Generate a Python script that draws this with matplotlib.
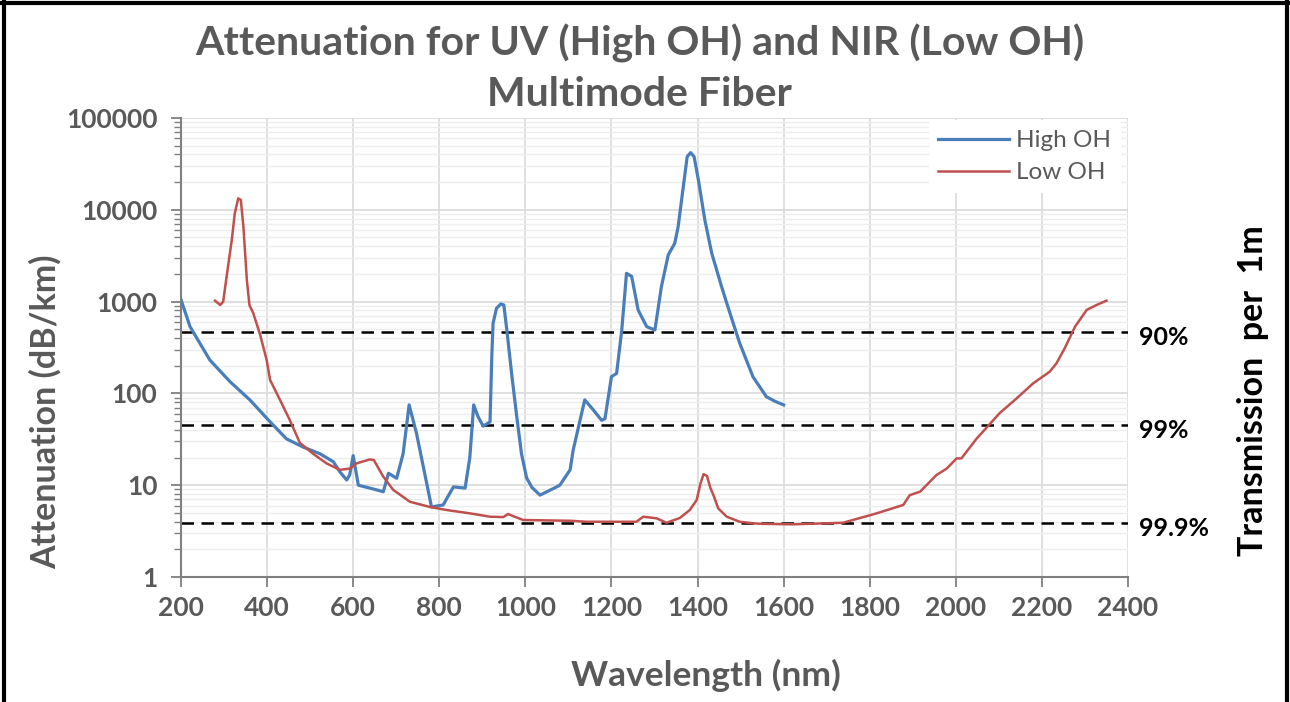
import numpy as np
import matplotlib
matplotlib.use("Agg")
import matplotlib.pyplot as plt
from matplotlib.lines import Line2D
from matplotlib.ticker import LogLocator, FixedLocator, NullFormatter

plt.rcParams['font.family'] = ['Lato', 'DejaVu Sans']

# High OH (UV) fiber, wavelength nm / attenuation dB/km
high_wl = [200, 221, 267, 314, 360, 407, 445, 484, 523, 554, 569, 585, 592, 600, 612, 639, 670,
           682, 701, 716, 730, 747, 782, 809, 833, 860, 871, 880, 890, 902, 918, 922, 925, 933,
           943, 950, 957, 968, 980, 991, 1003, 1015, 1034, 1073, 1080, 1104, 1111, 1138, 1158,
           1177, 1185, 1200, 1212, 1224, 1235, 1247, 1262, 1282, 1301, 1316, 1332, 1347, 1355,
           1367, 1376, 1384, 1392, 1402, 1417, 1433, 1456, 1468, 1498, 1529, 1560, 1580, 1600]
high_att = [1050, 533, 231, 134, 85, 49, 32, 26, 22, 18, 14, 11.4, 13, 21, 10, 9.3, 8.5,
            13.5, 11.9, 22, 75, 37, 5.8, 6.1, 9.6, 9.3, 20, 75, 56, 44, 49, 251, 580, 845,
            942, 918, 490, 166, 56, 22, 12, 9.5, 7.8, 9.6, 10, 14.7, 24, 85, 66,
            51, 53, 152, 165, 490, 2030, 1880, 810, 533, 490, 1450, 3220, 4310, 6550,
            17900, 37900, 41900, 37900, 21100, 7740, 3360, 1450, 957, 352, 151, 92, 82, 75]

# Low OH (NIR) fiber
low_wl = [279, 291, 298, 306, 318, 325, 333, 339, 345, 353, 359, 368, 384, 399, 407, 430, 453, 476,
          507, 538, 569, 593, 608, 639, 648, 670, 693, 732, 778, 817, 871, 918, 949, 960, 972, 995,
          1104, 1142, 1258, 1274, 1305, 1328, 1359, 1382, 1398, 1407, 1414, 1422, 1430, 1437, 1448,
          1468, 1498, 1529, 1545, 1622, 1738, 1816, 1878, 1893, 1917, 1955, 1979, 2002, 2013, 2048,
          2102, 2141, 2180, 2218, 2234, 2253, 2277, 2304, 2327, 2350]
low_att = [1023, 918, 998, 1870, 4690, 9160, 13300, 12800, 6550, 1720, 918, 745, 433, 231, 140, 85,
           51, 29, 22, 17.3, 14.7, 15.2, 17.3, 19.1, 18.8, 12.4, 8.9, 6.6, 5.8, 5.37, 4.94, 4.54,
           4.5, 4.86, 4.6, 4.18, 4.1, 4.0, 4.0, 4.54, 4.36, 3.9, 4.4, 5.37, 6.9, 10.5, 13.2, 12.6,
           9.3, 7.8, 5.6, 4.54, 4.0, 3.85, 3.8, 3.75, 3.9, 4.94, 6.1, 7.8, 8.5, 12.9, 15.2, 19.6,
           19.6, 32, 61, 88, 129, 172, 213, 310, 533, 810, 918, 1023]

# transmission per 1 m reference levels
trans_labels = ['90%', '99%', '99.9%']
trans_att = [470, 45, 3.85]

x_ticks = [200, 400, 600, 800, 1000, 1200, 1400, 1600, 1800, 2000, 2200, 2400]
y_ticks = [1, 10, 100, 1000, 10000, 100000]
y_ticklabels = ['1', '10', '100', '1000', '10000', '100000']

gray = '#595959'
fig = plt.figure(figsize=(12.9, 7.02), dpi=100)
ax = fig.add_axes([0.1403, 0.178, 0.7341, 0.654])

ax.set_yscale('log')
ax.set_xlim(200, 2400)
ax.set_ylim(1, 100000)

ax.yaxis.set_major_locator(FixedLocator(y_ticks))
ax.yaxis.set_minor_locator(LogLocator(base=10, subs=np.arange(2, 10)))
ax.yaxis.set_minor_formatter(NullFormatter())
ax.set_yticklabels(y_ticklabels)
ax.set_xticks(x_ticks)

ax.grid(True, which='major', color='#d9d9d9', lw=1.2)
ax.grid(True, which='minor', axis='y', color='#ededed', lw=1.0)
ax.set_axisbelow(True)

for s in ['top', 'right']:
    ax.spines[s].set_visible(False)
for s in ['left', 'bottom']:
    ax.spines[s].set_color('#7f7f7f')
    ax.spines[s].set_linewidth(1.5)

ax.tick_params(axis='both', which='major', direction='out', length=7, width=1.3, color='#7f7f7f',
               labelcolor=gray, labelsize=19)
ax.tick_params(axis='y', which='major', pad=10)
ax.tick_params(axis='x', which='major', pad=7)
ax.tick_params(axis='y', which='minor', direction='out', length=5, width=1.0, color='#7f7f7f')
for lab in ax.get_xticklabels() + ax.get_yticklabels():
    lab.set_fontweight('bold')

for v in trans_att:
    ax.axhline(v, color='black', lw=1.8, ls=(0, (5, 3)), zorder=2)
for lab, v in zip(trans_labels, trans_att):
    ax.annotate(lab, xy=(1.0, v), xycoords=ax.get_yaxis_transform(), xytext=(8, -4),
                textcoords='offset points', ha='left', va='center',
                fontsize=18, fontweight='bold', color='black')

ax.plot(high_wl, high_att, color='#4a7ebb', lw=2.3, label='High OH', zorder=3)
ax.plot(low_wl, low_att, color='#c0504d', lw=1.8, label='Low OH', zorder=3)

leg = ax.legend(loc='upper right', bbox_to_anchor=(0.995, 1.0), frameon=True, fontsize=17.5,
                handlelength=2.9, handletextpad=0.3, labelspacing=0.45, borderaxespad=0.1)
leg.get_frame().set_edgecolor('none')
leg.get_frame().set_facecolor('white')
leg.get_frame().set_alpha(1.0)
for t in leg.get_texts():
    t.set_color(gray)

fig.text(0.496, 0.938, 'Attenuation for UV (High OH) and NIR (Low OH)', ha='center', va='center',
         fontsize=29.5, fontweight='bold', color=gray)
fig.text(0.496, 0.866, 'Multimode Fiber', ha='center', va='center',
         fontsize=29.5, fontweight='bold', color=gray)
fig.text(0.035, 0.413, 'Attenuation (dB/km)', rotation=90, ha='center', va='center',
         fontsize=24.5, fontweight='bold', color=gray)
fig.text(0.547, 0.038, 'Wavelength (nm)', ha='center', va='center',
         fontsize=25.5, fontweight='bold', color=gray)
fig.text(0.971, 0.444, 'Transmission  per  1m', rotation=90, ha='center', va='center',
         fontsize=24.5, fontweight='bold', color='black')

# black frame around the picture
fig.add_artist(Line2D([0.003, 0.003], [0, 1], transform=fig.transFigure, color='black', lw=3))
fig.add_artist(Line2D([0, 1], [0.996, 0.996], transform=fig.transFigure, color='black', lw=3))
fig.add_artist(Line2D([0.998, 0.998], [0, 1], transform=fig.transFigure, color='black', lw=3))

fig.savefig('out.png', dpi=100)
